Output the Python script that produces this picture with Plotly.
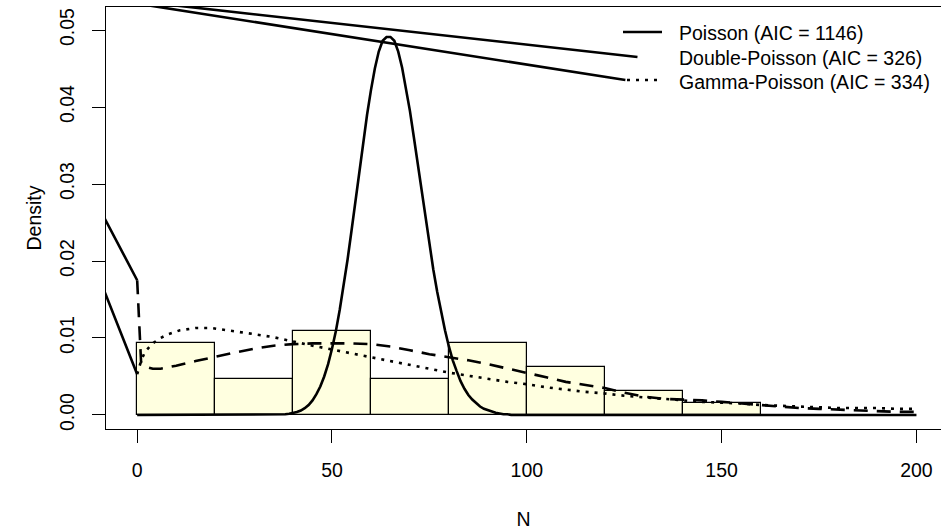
import plotly.graph_objects as go

# ---------------- data ----------------
bin_left = [0, 20, 40, 60, 80, 100, 120, 140]
bin_density = [0.009375, 0.0046875, 0.0109375, 0.0046875, 0.009375, 0.00625, 0.003125, 0.0015625]
bin_width = 20

pois_x = [0] + list(range(36, 97)) + [200]
pois_y = [0.0,
          0.0, 0.00005, 0.00009, 0.00015, 0.00024, 0.00038, 0.00058, 0.00088, 0.0013, 0.0019,
          0.0027, 0.0037, 0.0050, 0.0066, 0.0086, 0.0109, 0.0137, 0.0168, 0.0202, 0.0239,
          0.0277, 0.0316, 0.0354, 0.0390, 0.0422, 0.0450, 0.0472, 0.0486, 0.0491, 0.0491,
          0.0486, 0.0472, 0.0451, 0.0425, 0.0395, 0.0361, 0.0326, 0.0291, 0.0255, 0.0221,
          0.0189, 0.0160, 0.0133, 0.0110, 0.0089, 0.0071, 0.0057, 0.0044, 0.0034, 0.0026,
          0.0020, 0.0015, 0.0011, 0.0008, 0.0006, 0.0004, 0.0003, 0.0002, 0.0001, 0.0001,
          0.0,
          0.0]

dp_x = [0, 1, 2, 4, 6, 8, 10, 15, 20, 25, 30, 35, 40, 45, 50, 55, 60, 65, 70, 75, 80, 85, 90,
        95, 100, 105, 110, 115, 120, 125, 130, 135, 140, 145, 150, 155, 160, 165, 170, 175,
        180, 185, 190, 195, 200]
dp_y = [0.0175, 0.0069, 0.0063, 0.0060, 0.0060, 0.0062, 0.0064, 0.0070, 0.0076, 0.0081, 0.0086,
        0.0090, 0.0092, 0.0093, 0.0093, 0.0093, 0.0092, 0.0089, 0.0084, 0.0079, 0.0075, 0.0071,
        0.0066, 0.0060, 0.0055, 0.0049, 0.0043, 0.0039, 0.0035, 0.0029, 0.0024, 0.0021, 0.0020,
        0.0019, 0.0017, 0.0015, 0.0013, 0.0011, 0.0009, 0.0008, 0.0007, 0.0006, 0.0005, 0.0004,
        0.0004]

gp_x = [0, 1, 2, 4, 6, 8, 11, 15, 19, 22, 26, 30, 35, 40, 45, 50, 55, 60, 65, 70, 75, 80, 85,
        90, 95, 100, 105, 110, 115, 120, 125, 130, 135, 140, 145, 150, 155, 160, 165, 170, 175,
        180, 185, 190, 195, 200]
gp_y = [0.0053, 0.0070, 0.0082, 0.0093, 0.0100, 0.0105, 0.0110, 0.0113, 0.0113, 0.0111, 0.0108,
        0.0105, 0.0101, 0.0095, 0.0090, 0.0085, 0.0080, 0.0075, 0.0070, 0.0065, 0.0060, 0.0055,
        0.0051, 0.0047, 0.0043, 0.0040, 0.0036, 0.0033, 0.0030, 0.0028, 0.0025, 0.0023, 0.0021,
        0.0019, 0.0017, 0.0016, 0.0015, 0.0013, 0.0012, 0.0011, 0.0010, 0.0009, 0.0009, 0.0009,
        0.0008, 0.0008]

# stray connector lines visible in the reference (legend end -> off-plot point -> curve start)
dp_stray_x = [128.4, -40, 0]
dp_stray_y = [0.0465, 0.0560, 0.0175]
gp_stray_x = [125.3, -40, 0]
gp_stray_y = [0.0435, 0.0566, 0.0053]

legend_labels = ["Poisson (AIC = 1146)", "Double-Poisson (AIC = 326)", "Gamma-Poisson (AIC = 334)"]
x_ticks = [0, 50, 100, 150, 200]
y_ticks = [0.00, 0.01, 0.02, 0.03, 0.04, 0.05]
y_ticklabels = ["0.00", "0.01", "0.02", "0.03", "0.04", "0.05"]

# ---------------- figure ----------------
FONT = "Liberation Sans, Arial, sans-serif"
FS = 19.5
W, H = 941, 532
ML, MR, MT, MB = 106, 0, 7, 103

fig = go.Figure()

fig.add_trace(go.Bar(
    x=[b + bin_width / 2 for b in bin_left], y=bin_density, width=bin_width,
    marker=dict(color="#FFFFE0", line=dict(color="black", width=1.2)),
    showlegend=False, hoverinfo="skip"))

line_w = 2.6
fig.add_trace(go.Scatter(x=dp_stray_x, y=dp_stray_y, mode="lines",
                         line=dict(color="black", width=line_w), showlegend=False))
fig.add_trace(go.Scatter(x=gp_stray_x, y=gp_stray_y, mode="lines",
                         line=dict(color="black", width=line_w), showlegend=False))
fig.add_trace(go.Scatter(x=pois_x, y=pois_y, mode="lines", name=legend_labels[0],
                         line=dict(color="black", width=line_w), showlegend=False))
fig.add_trace(go.Scatter(x=dp_x, y=dp_y, mode="lines", name=legend_labels[1],
                         line=dict(color="black", width=line_w, dash="14px,9px"), showlegend=False))
fig.add_trace(go.Scatter(x=gp_x, y=gp_y, mode="lines", name=legend_labels[2],
                         line=dict(color="black", width=line_w, dash="3px,6px"), showlegend=False))

pw = W - ML - MR
ph = H - MT - MB


def px2paper_x(px):
    return (px - ML) / pw


def px2paper_y(py):
    return (H - MB - py) / ph


# manual legend (text + sample lines)
leg_rows = [33, 58, 82]
for lab, ry in zip(legend_labels, leg_rows):
    fig.add_annotation(x=px2paper_x(677), y=px2paper_y(ry), xref="paper", yref="paper",
                       text=lab, showarrow=False, xanchor="left", yanchor="middle",
                       font=dict(family=FONT, size=FS, color="black"))
fig.add_shape(type="line", xref="paper", yref="paper",
              x0=px2paper_x(623), x1=px2paper_x(662), y0=px2paper_y(32), y1=px2paper_y(32),
              line=dict(color="black", width=line_w))
fig.add_shape(type="line", xref="paper", yref="paper",
              x0=px2paper_x(627), x1=px2paper_x(662), y0=px2paper_y(80), y1=px2paper_y(80),
              line=dict(color="black", width=line_w, dash="3px,6px"))

fig.update_layout(
    width=W, height=H,
    margin=dict(l=ML, r=MR, t=MT, b=MB, autoexpand=False),
    paper_bgcolor="white", plot_bgcolor="white",
    font=dict(family=FONT, size=FS, color="black"),
    bargap=0,
    xaxis=dict(range=[-8, 206.3], tickvals=x_ticks, ticks="outside", ticklen=13,
               tickwidth=1, tickcolor="black", showline=True, linecolor="black", linewidth=1,
               mirror=True, showgrid=False, zeroline=False, ticklabelstandoff=11,
               automargin=False,
               title=dict(text="N", standoff=31, font=dict(family=FONT, size=FS))),
    yaxis=dict(range=[-0.00182, 0.05299], tickvals=y_ticks, ticktext=y_ticklabels,
               tickangle=-90, ticks="outside", ticklen=13, tickwidth=1, tickcolor="black",
               showline=True, linecolor="black", linewidth=1, mirror=False, showgrid=False,
               zeroline=False, ticklabelstandoff=10, automargin=False,
               title=dict(text="Density", standoff=9, font=dict(family=FONT, size=FS))),
)

fig.write_html("out.html", config={"displayModeBar": False},
               post_script="document.body.style.margin='0px';document.body.style.padding='0px';")
